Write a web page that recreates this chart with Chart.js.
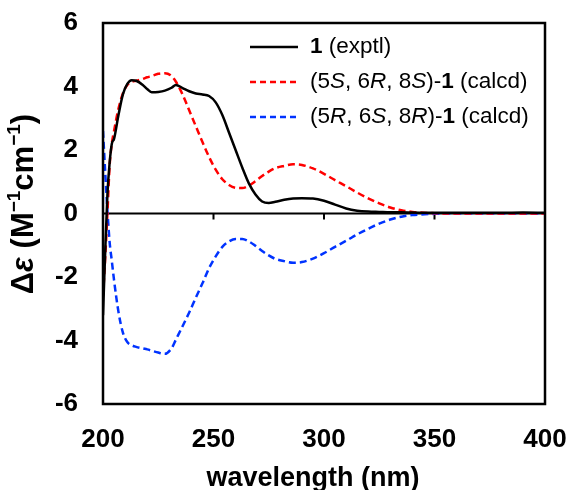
<!DOCTYPE html>
<html>
<head>
<meta charset="utf-8">
<script src="https://cdn.jsdelivr.net/npm/chart.js@4.4.1/dist/chart.umd.min.js"></script>
<style>
  html, body { margin: 0; padding: 0; background: #fff; }
  #cd-chart { display: block; }
</style>
</head>
<body>
<canvas id="cd-chart" width="566" height="490"></canvas>
<script>
const FONT = "'Liberation Sans', Arial, sans-serif";

// wavelength (nm)
const wavelengths = [200, 201, 202, 203, 204, 205, 207, 209, 211, 213, 215, 218, 220, 222, 225, 228, 231, 233, 236, 239,
  242, 245, 248, 251, 254, 257, 260, 263, 266, 269, 272, 275, 278, 282, 286, 290, 295, 300, 305, 310,
  315, 320, 325, 330, 335, 340, 350, 360, 370, 380, 390, 400];

// 1 (exptl)
const exptl = [-3.2, -1.2, 0.6, 1.6, 2.2, 2.35, 3.1, 3.75, 4.08, 4.2, 4.18, 4.05, 3.92, 3.82, 3.83, 3.87, 3.96, 4.05, 3.95, 3.85,
  3.78, 3.75, 3.7, 3.5, 3.1, 2.55, 2.0, 1.45, 0.95, 0.6, 0.38, 0.33, 0.37, 0.43, 0.47, 0.48, 0.47, 0.4, 0.28, 0.16,
  0.09, 0.06, 0.05, 0.04, 0.04, 0.03, 0.02, 0.02, 0.02, 0.02, 0.03, 0.02];

// (5S, 6R, 8S)-1 (calcd)
const calcdSRS = [-2.6, -1.4, 0.0, 1.5, 2.2, 2.6, 3.3, 3.78, 4.05, 4.15, 4.18, 4.24, 4.29, 4.33, 4.4, 4.42, 4.33, 4.15, 3.75, 3.25,
  2.75, 2.25, 1.78, 1.38, 1.08, 0.9, 0.81, 0.8, 0.88, 1.02, 1.18, 1.32, 1.43, 1.5, 1.55, 1.53, 1.42, 1.25, 1.05, 0.86,
  0.66, 0.48, 0.32, 0.19, 0.1, 0.05, 0.01, 0, 0, 0, 0, 0];

// (5R, 6S, 8R)-1 (calcd)
const calcdRSR = [2.6, 1.3, 0.1, -0.9, -1.5, -2.1, -3.1, -3.75, -4.05, -4.15, -4.2, -4.25, -4.28, -4.32, -4.38, -4.42, -4.25, -3.97, -3.55, -3.12,
  -2.65, -2.2, -1.72, -1.35, -1.05, -0.88, -0.8, -0.8, -0.88, -1.02, -1.18, -1.32, -1.43, -1.5, -1.55, -1.53, -1.42, -1.25, -1.05, -0.86,
  -0.66, -0.48, -0.32, -0.19, -0.1, -0.05, -0.01, 0, 0, 0, 0, 0];

const xTicks = [200, 250, 300, 350, 400];
const yTicks = [-6, -4, -2, 0, 2, 4, 6];

const toPoints = vals => wavelengths.map((w, i) => ({x: w, y: vals[i]}));

// text pieces: [text, style]  style: b = bold, i = italic, n = normal
const legendRows = [
  {color: "#000000", dash: [], parts: [["1", "b"], [" (exptl)", "n"]]},
  {color: "#ff0000", dash: [6, 4], parts: [["(5", "n"], ["S", "i"], [", 6", "n"], ["R", "i"], [", 8", "n"], ["S", "i"], [")-", "n"], ["1", "b"], [" (calcd)", "n"]]},
  {color: "#0033ff", dash: [6, 4], parts: [["(5", "n"], ["R", "i"], [", 6", "n"], ["S", "i"], [", 8", "n"], ["R", "i"], [")-", "n"], ["1", "b"], [" (calcd)", "n"]]}
];

const fontFor = (style, size) => {
  if (style === "b") return `bold ${size}px ${FONT}`;
  if (style === "i") return `italic ${size}px ${FONT}`;
  if (style === "bi") return `italic bold ${size}px ${FONT}`;
  return `${size}px ${FONT}`;
};

const drawParts = (ctx, parts, x, y, size) => {
  let cx = x;
  parts.forEach(([t, s, sup]) => {
    const sz = sup ? Math.round(size * 0.62) : size;
    ctx.font = fontFor(s, sz);
    ctx.fillText(t, cx, sup ? y - size * 0.3 : y);
    cx += ctx.measureText(t).width;
  });
  return cx - x;
};

const measureParts = (ctx, parts, size) => {
  let w = 0;
  parts.forEach(([t, s, sup]) => {
    ctx.font = fontFor(s, sup ? Math.round(size * 0.62) : size);
    w += ctx.measureText(t).width;
  });
  return w;
};

const cdDecor = {
  id: "cdDecor",
  beforeDatasetsDraw(chart) {
    const {ctx, chartArea: a, scales: {x, y}} = chart;
    const y0 = y.getPixelForValue(0);
    ctx.save();
    ctx.strokeStyle = "#000";
    ctx.lineWidth = 2;
    ctx.beginPath();
    ctx.moveTo(a.left, y0);
    ctx.lineTo(a.right, y0);
    xTicks.forEach(v => {
      const px = x.getPixelForValue(v);
      ctx.moveTo(px, y0);
      ctx.lineTo(px, y0 + 6);
    });
    ctx.stroke();
    ctx.restore();
  },
  afterDatasetsDraw(chart) {
    const {ctx, chartArea: a} = chart;
    ctx.save();
    ctx.strokeStyle = "#000";
    ctx.lineWidth = 2.5;
    ctx.strokeRect(a.left, a.top, a.right - a.left, a.bottom - a.top);
    ctx.restore();
  },
  afterDraw(chart) {
    const {ctx} = chart;
    ctx.save();
    ctx.fillStyle = "#000";
    ctx.textBaseline = "middle";
    ctx.textAlign = "left";

    // legend
    legendRows.forEach((row, i) => {
      const ly = 47 + i * 35;
      ctx.strokeStyle = row.color;
      ctx.lineWidth = 2.5;
      ctx.setLineDash(row.dash);
      ctx.beginPath();
      ctx.moveTo(250, ly);
      ctx.lineTo(298, ly);
      ctx.stroke();
      ctx.setLineDash([]);
      drawParts(ctx, row.parts, 310, ly, 22.5);
    });

    // x title
    ctx.font = fontFor("b", 27);
    ctx.textAlign = "center";
    ctx.fillText("wavelength (nm)", 313, 479);

    // y title
    const yParts = [["Δ", "b"], ["ε", "bi"], [" (M", "b"], ["−1", "b", true], ["cm", "b"], ["−1", "b", true], [")", "b"]];
    const size = 31;
    ctx.textAlign = "left";
    ctx.translate(24, 204);
    ctx.rotate(-Math.PI / 2);
    const w = measureParts(ctx, yParts, size);
    drawParts(ctx, yParts, -w / 2, 0, size);
    ctx.restore();
  }
};

const dsStyle = (color, dash) => ({
  borderColor: color,
  backgroundColor: color,
  borderWidth: 2.5,
  borderDash: dash,
  pointRadius: 0,
  fill: false,
  cubicInterpolationMode: "monotone"
});

const noPad = s => {
  s.paddingTop = 0;
  s.paddingBottom = 0;
  s.paddingLeft = 0;
  s.paddingRight = 0;
};

new Chart(document.getElementById("cd-chart"), {
  type: "line",
  data: {
    datasets: [
      {label: "1 (exptl)", data: toPoints(exptl), ...dsStyle("#000000", [])},
      {label: "(5S, 6R, 8S)-1 (calcd)", data: toPoints(calcdSRS), ...dsStyle("#ff0000", [7, 4])},
      {label: "(5R, 6S, 8R)-1 (calcd)", data: toPoints(calcdRSR), ...dsStyle("#0033ff", [7, 4])}
    ]
  },
  options: {
    responsive: false,
    animation: false,
    layout: {padding: {top: 23, right: 21, left: 0, bottom: 0}},
    plugins: {legend: {display: false}, tooltip: {enabled: false}},
    scales: {
      x: {
        type: "linear",
        min: 200,
        max: 400,
        afterBuildTicks: s => { s.ticks = xTicks.map(v => ({value: v})); },
        afterFit: s => { s.height = 86; noPad(s); },
        grid: {display: false, drawTicks: false},
        border: {display: false},
        ticks: {color: "#000", padding: 20, font: {family: FONT, size: 26, weight: "bold"}, maxRotation: 0}
      },
      y: {
        min: -6,
        max: 6,
        afterBuildTicks: s => { s.ticks = yTicks.map(v => ({value: v})); },
        afterFit: s => { s.width = 103; noPad(s); },
        grid: {display: false, drawTicks: false},
        border: {display: false},
        ticks: {color: "#000", padding: 25, font: {family: FONT, size: 26, weight: "bold"}}
      }
    }
  },
  plugins: [cdDecor]
});
</script>
</body>
</html>
